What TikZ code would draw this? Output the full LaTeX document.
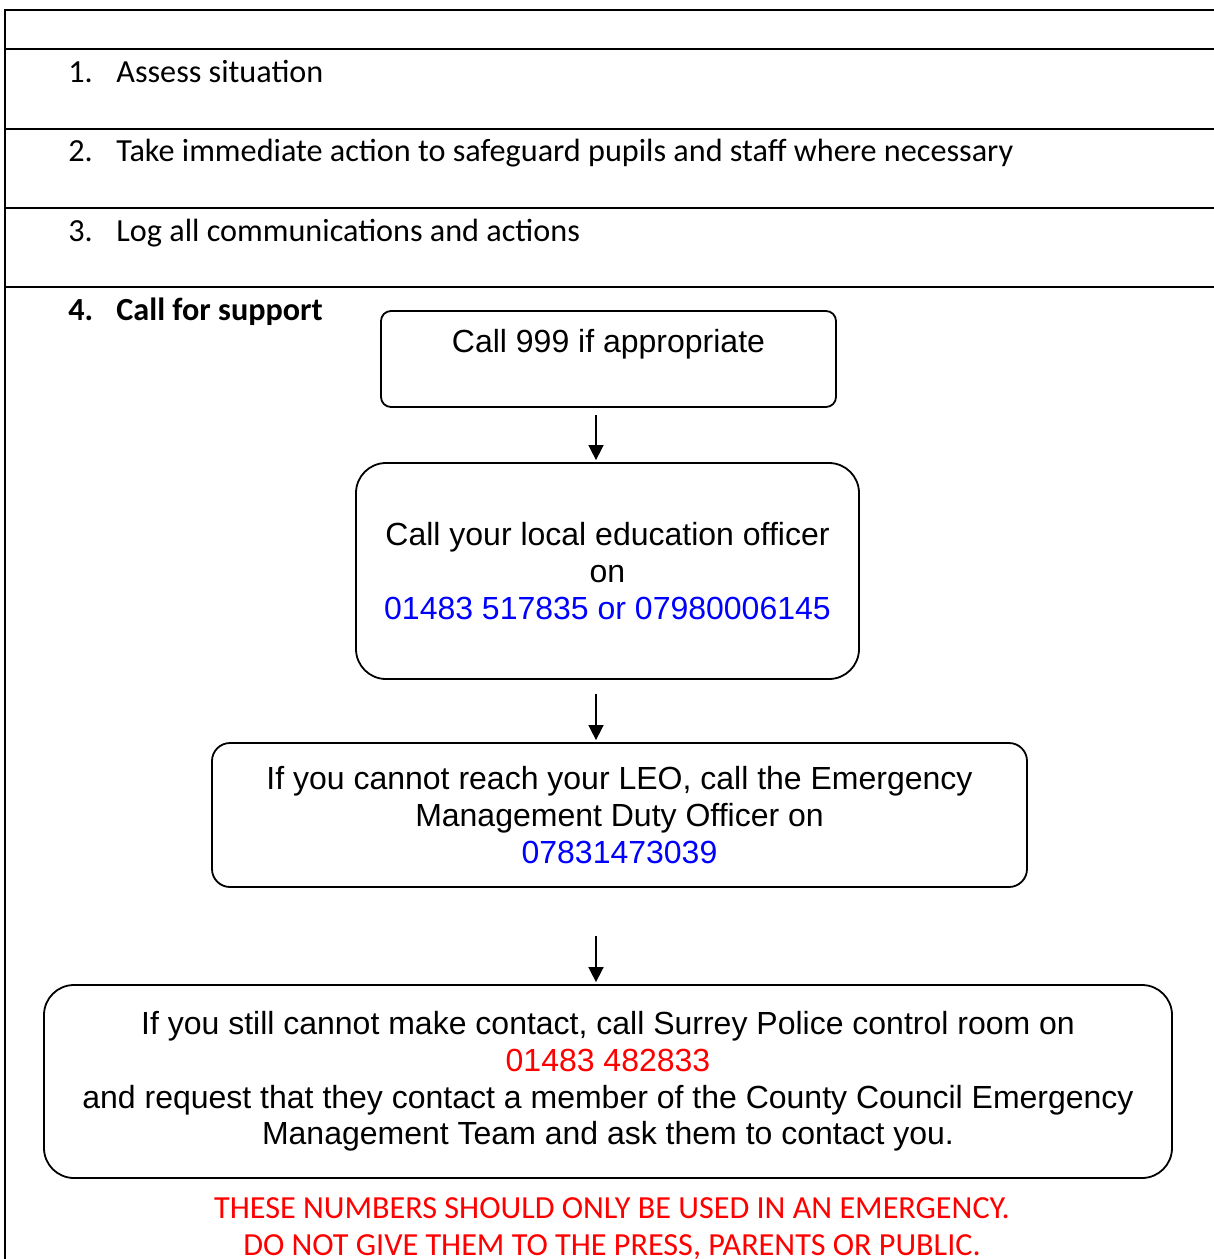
\documentclass[tikz,border=0pt]{standalone}
\usepackage{fontspec}
\setmainfont{Carlito}
\newfontfamily\arialfont{Liberation Sans}
\usetikzlibrary{arrows.meta}
\definecolor{numblue}{RGB}{0,0,255}
\definecolor{alertred}{RGB}{255,0,0}
\tikzset{
  rule/.style={black, line width=0.75pt},
  flowbox/.style={draw, line width=0.9pt, align=center, inner sep=0pt,
    font=\arialfont\fontsize{16}{18.4}\selectfont},
  flow/.style={-{Triangle[length=7.5pt,width=7.5pt]}, line width=0.8pt},
  rowtext/.style={anchor=base west, inner sep=0pt, font=\fontsize{16.1}{19}\selectfont}
}

\begin{document}
\begin{tikzpicture}[x=0.5pt,y=-0.5pt]
  \useasboundingbox (0,0) rectangle (1214,1259);
  % table rules
  \draw[rule] (1214,10) -- (5,10) -- (5,1259);
  \foreach \y in {49,129,208,287}
    \draw[rule] (5,\y) -- (1214,\y);
  % numbered steps
  \node[rowtext] (n1) at (68,82) {1.};
  \node[rowtext] (t1) at (116,82) {Assess situation};
  \node[rowtext] (n2) at (68,161) {2.};
  \node[rowtext] (t2) at (116,161) {Take immediate action to safeguard pupils and staff where necessary};
  \node[rowtext] (n3) at (68,241) {3.};
  \node[rowtext] (t3) at (116,241) {Log all communications and actions};
  \node[rowtext] (n4) at (68,320) {\bfseries 4.};
  \node[rowtext] (t4) at (116,320) {\bfseries Call for support};

  % flow chart
  \node[flowbox, rounded corners=5pt, minimum width=227.5pt, minimum height=48pt]
    (c999) at (608.5,359) {Call 999 if appropriate\\ \mbox{}};
  \node[flowbox, rounded corners=15pt, minimum width=251.5pt, minimum height=108pt]
    (leo) at (607.5,571) {Call your local education officer\\ on\\
    \textcolor{numblue}{01483 517835 or 07980006145}};
  \node[flowbox, rounded corners=9pt, minimum width=407.5pt, minimum height=72pt]
    (emdo) at (619.5,815) {If you cannot reach your LEO, call the Emergency\\
    Management Duty Officer on\\ \textcolor{numblue}{07831473039}};
  \node[flowbox, rounded corners=15pt, minimum width=564pt, minimum height=96.5pt]
    (police) at (608,1081.5) {If you still cannot make contact, call Surrey Police control room on\\
    \textcolor{alertred}{01483 482833}\\
    and request that they contact a member of the County Council Emergency\\
    Management Team and ask them to contact you.};

  \draw[flow] ([shift={(-12.5,7)}]c999.south) -- ([shift={(-11.5,-2)}]leo.north);
  \draw[flow] ([shift={(-11.5,14)}]leo.south) -- ([shift={(-23.5,-2)}]emdo.north);
  \draw[flow] ([shift={(-23.5,48)}]emdo.south) -- ([shift={(-12,-2)}]police.north);

  % warning
  \node[align=center, text=alertred, inner sep=0pt, font=\fontsize{16.1}{18.5}\selectfont]
    (warn) at (612,1229) {THESE NUMBERS SHOULD ONLY BE USED IN AN EMERGENCY.\\
    DO NOT GIVE THEM TO THE PRESS, PARENTS OR PUBLIC.};
\end{tikzpicture}
\end{document}
